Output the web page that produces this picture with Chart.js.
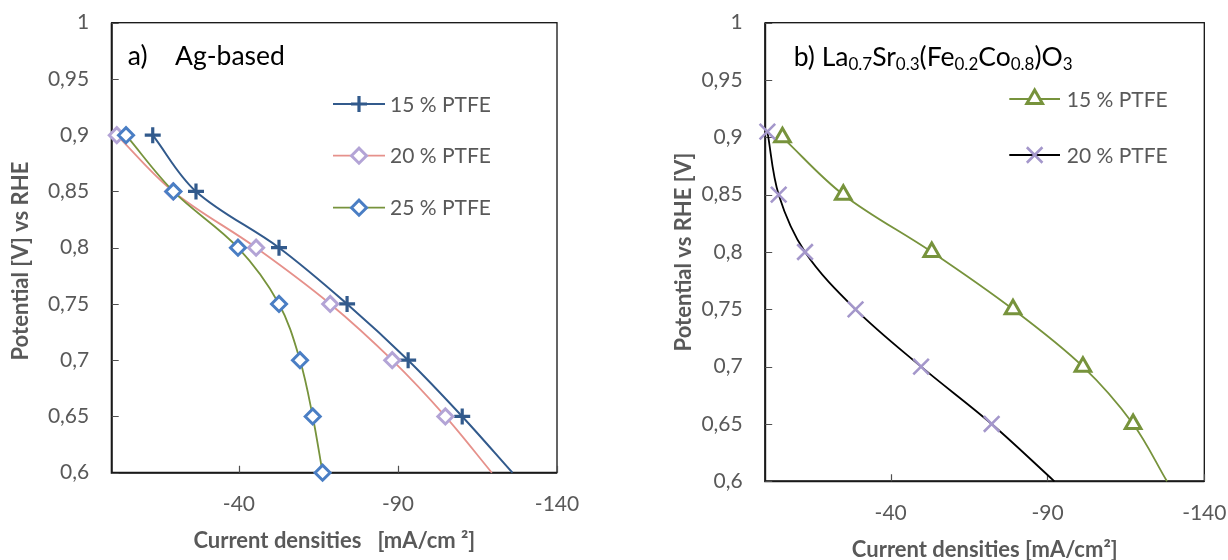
<!DOCTYPE html>
<html>
<head>
<meta charset="utf-8">
<title>Polarisation curves</title>
<script src="https://cdn.jsdelivr.net/npm/chart.js@4.4.1/dist/chart.umd.min.js"></script>
<style>
  html, body { margin: 0; padding: 0; background: #fff; }
  #wrap { position: relative; width: 1228px; height: 560px; overflow: hidden; }
  .panel { position: absolute; top: 0; height: 560px; }
  #panelA { left: 0; width: 600px; }
  #panelB { left: 640px; width: 588px; }
</style>
</head>
<body>
<div id="wrap">
  <div class="panel" id="panelA"><canvas id="chartA"></canvas></div>
  <div class="panel" id="panelB"><canvas id="chartB"></canvas></div>
</div>
<script>
// Potential [V] vs current density [mA/cm2]
const potentialA = [0.9, 0.85, 0.8, 0.75, 0.7, 0.65, 0.6];
const agPtfe15 = [-12.9, -26.5, -52.6, -74.0, -93.2, -110.2, -126.0];
const agPtfe20 = [-1.6, -19.3, -45.4, -68.7, -88.2, -104.9, -119.5];
const agPtfe25 = [-4.5, -19.4, -39.7, -52.6, -59.2, -63.2, -66.3];

const potentialB15 = [0.9, 0.85, 0.8, 0.75, 0.7, 0.65, 0.6];
const lsfPtfe15 = [-5.5, -24.9, -53.1, -79.0, -101.3, -117.3, -128.1];
const potentialB20 = [0.905, 0.85, 0.8, 0.75, 0.7, 0.65, 0.6];
const lsfPtfe20 = [-0.7, -4.3, -12.7, -28.8, -49.7, -72.2, -92.2];

const seriesLabels = ['15 % PTFE', '20 % PTFE', '25 % PTFE'];
const xTicks = [-140, -90, -40];
const yTicks = [0.6, 0.65, 0.7, 0.75, 0.8, 0.85, 0.9, 0.95, 1];

const GREY = '#595959';
Chart.defaults.font.family = "Lato, 'Open Sans', sans-serif";

function toPoints(xs, ys) {
  return xs.map((x, i) => ({ x: x, y: ys[i] }));
}

// last point only ends the line at the axis, no marker there
function radii(n, r, lastHidden) {
  const out = new Array(n).fill(r);
  if (lastHidden) out[n - 1] = 0;
  return out;
}

function series(label, xs, ys, style) {
  return {
    label: label,
    data: toPoints(xs, ys),
    showLine: true,
    tension: 0.35,
    clip: false,
    borderColor: style.line,
    borderWidth: style.lineWidth || 1.8,
    pointStyle: style.marker,
    pointRadius: radii(xs.length, style.radius, style.lastHidden),
    pointBorderColor: style.markerColor,
    pointBackgroundColor: '#fff',
    pointBorderWidth: style.markerWidth || 3,
    order: style.order
  };
}

function drawMarker(ctx, ds, x, y) {
  const r = Array.isArray(ds.pointRadius) ? ds.pointRadius[0] : ds.pointRadius;
  ctx.save();
  ctx.strokeStyle = ds.pointBorderColor;
  ctx.fillStyle = ds.pointBackgroundColor;
  ctx.lineWidth = ds.pointBorderWidth;
  Chart.helpers.drawPoint(ctx, { pointStyle: ds.pointStyle, radius: r, borderWidth: ds.pointBorderWidth, rotation: 0 }, x, y);
  ctx.restore();
}

// plot frame plus short inward tick marks
const frameTicks = {
  id: 'frameTicks',
  beforeDatasetsDraw(chart) {
    const { ctx, chartArea: a, scales } = chart;
    ctx.save();
    ctx.strokeStyle = '#111';
    ctx.lineWidth = 1.3;
    ctx.strokeRect(a.left, a.top, a.right - a.left, a.bottom - a.top);
    ctx.lineWidth = 2;
    ctx.strokeStyle = '#1a1a1a';
    ctx.beginPath();
    ctx.moveTo(a.left, a.top);
    ctx.lineTo(a.left, a.bottom);
    ctx.lineTo(a.right, a.bottom);
    ctx.stroke();
    ctx.lineWidth = 1.2;
    ctx.strokeStyle = '#505050';
    ctx.beginPath();
    yTicks.forEach(v => {
      const py = Math.round(scales.y.getPixelForValue(v)) + 0.5;
      ctx.moveTo(a.left, py);
      ctx.lineTo(a.left + 7, py);
    });
    xTicks.forEach(v => {
      const px = Math.round(scales.x.getPixelForValue(v)) + 0.5;
      ctx.moveTo(px, a.bottom);
      ctx.lineTo(px, a.bottom - 7);
    });
    ctx.stroke();
    ctx.restore();
  }
};

// legend drawn inside the plot, and the panel heading
const panelDecor = {
  id: 'panelDecor',
  afterDraw(chart, args, opts) {
    const ctx = chart.ctx;
    const lg = opts.legend;
    ctx.save();
    lg.rows.forEach((row, i) => {
      const ds = chart.data.datasets[row];
      const y = lg.ys[i];
      ctx.strokeStyle = ds.borderColor;
      ctx.lineWidth = ds.borderWidth;
      ctx.beginPath();
      ctx.moveTo(lg.x0, y);
      ctx.lineTo(lg.x1, y);
      ctx.stroke();
      drawMarker(ctx, ds, (lg.x0 + lg.x1) / 2, y);
      ctx.fillStyle = GREY;
      ctx.font = "21px Lato, 'Open Sans', sans-serif";
      ctx.textBaseline = 'middle';
      ctx.textAlign = 'left';
      ctx.fillText(ds.label, lg.textX, y + 1);
    });
    // heading: runs of normal text and subscripts
    let x = opts.heading.x;
    const base = opts.heading.y;
    ctx.fillStyle = '#000';
    ctx.textBaseline = 'alphabetic';
    opts.heading.parts.forEach(p => {
      if (p.gap) { x = opts.heading.x + p.gap; }
      ctx.font = (p.sub ? '17px' : '26.5px') + " Lato, 'Open Sans', sans-serif";
      ctx.fillText(p.t, x, p.sub ? base + 4 : base);
      x += ctx.measureText(p.t).width;
    });
    ctx.restore();
  }
};

function makeOptions(cfg) {
  return {
    responsive: true,
    maintainAspectRatio: false,
    animation: false,
    events: [],
    layout: { padding: cfg.padding },
    plugins: {
      legend: { display: false },
      tooltip: { enabled: false },
      panelDecor: { legend: cfg.legend, heading: cfg.heading }
    },
    scales: {
      x: {
        type: 'linear',
        min: -140,
        max: 0,
        reverse: true,
        afterBuildTicks: s => { s.ticks = xTicks.map(v => ({ value: v })); },
        afterFit: s => { s.height = cfg.xAxisHeight; s.paddingLeft = 0; s.paddingRight = 0; },
        grid: { display: false, drawTicks: false },
        border: { display: false },
        ticks: { color: GREY, font: { size: 21 }, padding: 19, autoSkip: false, maxRotation: 0, callback: v => String(v) },
        title: {
          display: true, text: cfg.xTitle, color: GREY,
          font: { size: 22, weight: 'bold', lineHeight: cfg.xTitleLH },
          padding: { top: 0, bottom: cfg.xTitlePad }
        }
      },
      y: {
        type: 'linear',
        min: 0.6,
        max: 1,
        afterBuildTicks: s => { s.ticks = yTicks.map(v => ({ value: v })); },
        afterFit: s => { s.width = cfg.yAxisWidth; s.paddingTop = 0; s.paddingBottom = 0; },
        grid: { display: false, drawTicks: false },
        border: { display: false },
        ticks: { color: GREY, font: { size: 21 }, padding: 22.5, autoSkip: false, callback: v => String(+v.toFixed(2)).replace('.', ',') },
        title: {
          display: true, text: cfg.yTitle, color: GREY,
          font: { size: 22, weight: 'bold', lineHeight: 1.2 },
          padding: { top: cfg.yTitlePad, bottom: 0 }
        }
      }
    }
  };
}

// a) Ag-based electrodes
new Chart(document.getElementById('chartA'), {
  type: 'scatter',
  data: {
    datasets: [
      series(seriesLabels[0], agPtfe15, potentialA, { line: '#325A8C', lineWidth: 2, marker: 'cross', radius: 8, markerColor: '#325A8C', markerWidth: 3.2, lastHidden: true, order: 2 }),
      series(seriesLabels[1], agPtfe20, potentialA, { line: '#E6918B', marker: 'rectRot', radius: 7.5, markerColor: '#B3A4D6', lastHidden: true, order: 1 }),
      series(seriesLabels[2], agPtfe25, potentialA, { line: '#77933C', marker: 'rectRot', radius: 7.5, markerColor: '#4A7EC4', lastHidden: false, order: 0 })
    ]
  },
  options: makeOptions({
    padding: { left: 0, right: 43, top: 22.7, bottom: 0 },
    yAxisWidth: 111.7,
    xAxisHeight: 87.3,
    xTitle: 'Current densities   [mA/cm \u00B2]',
    xTitleLH: 1.2,
    xTitlePad: 5.8,
    yTitle: 'Potential [V] vs RHE     ',
    yTitlePad: 7.8,
    legend: { rows: [0, 1, 2], x0: 333, x1: 385, textX: 390, ys: [104, 155.7, 207.7] },
    heading: { x: 127.7, y: 65, parts: [{ t: 'a)' }, { t: 'Ag-based', gap: 47.3 }] }
  }),
  plugins: [frameTicks, panelDecor]
});

// b) La0.7Sr0.3(Fe0.2Co0.8)O3 electrodes
new Chart(document.getElementById('chartB'), {
  type: 'scatter',
  data: {
    datasets: [
      series(seriesLabels[0], lsfPtfe15, potentialB15, { line: '#77933C', marker: 'triangle', radius: 9, markerColor: '#77933C', markerWidth: 3, lastHidden: true, order: 1 }),
      series(seriesLabels[1], lsfPtfe20, potentialB20, { line: '#000000', marker: 'crossRot', radius: 11, markerColor: '#A497CB', markerWidth: 2.6, lastHidden: true, order: 0 })
    ]
  },
  options: makeOptions({
    padding: { left: 0, right: 23.7, top: 22.7, bottom: 0 },
    yAxisWidth: 125.2,
    xAxisHeight: 78.7,
    xTitle: 'Current densities [mA/cm\u00B2]',
    xTitleLH: 0.9,
    xTitlePad: 0,
    yTitle: 'Potential vs RHE [V]',
    yTitlePad: 30.8,
    legend: { rows: [0, 1], x0: 369.3, x1: 420, textX: 426.7, ys: [99, 155] },
    heading: {
      x: 153.7, y: 65.5,
      parts: [
        { t: 'b) La' }, { t: '0.7', sub: true }, { t: 'Sr' }, { t: '0.3', sub: true },
        { t: '(Fe' }, { t: '0.2', sub: true }, { t: 'Co' }, { t: '0.8', sub: true },
        { t: ')O' }, { t: '3', sub: true }
      ]
    }
  }),
  plugins: [frameTicks, panelDecor]
});
</script>
</body>
</html>
